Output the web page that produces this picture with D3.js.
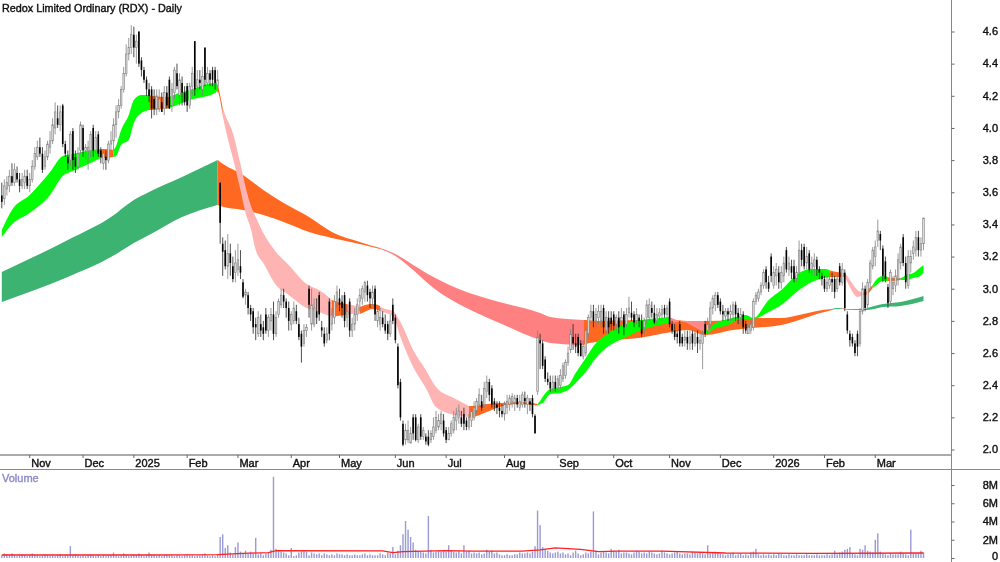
<!DOCTYPE html>
<html><head><meta charset="utf-8">
<script src="https://cdn.jsdelivr.net/npm/d3@7"></script>
<style>html,body{margin:0;padding:0;background:#fff}svg{display:block;filter:blur(0.3px)}text{font-family:"Liberation Sans",Arial,sans-serif;font-size:11px;fill:#111;stroke:#111;stroke-width:.4px}</style>
</head><body><svg id="c" width="1000" height="562"></svg>
<script>
const title="Redox Limited Ordinary (RDX) - Daily";
const opens=[3.58,3.56,3.62,3.64,3.70,3.66,3.72,3.68,3.64,3.66,3.70,3.64,3.68,3.76,3.82,3.88,3.84,3.76,3.82,3.88,
3.92,4.00,4.06,4.02,4.14,3.90,3.82,3.80,3.98,3.82,3.76,3.86,4.00,3.86,3.86,3.86,4.00,3.86,3.96,3.86,
3.78,3.82,3.80,3.90,3.92,4.02,4.10,4.14,4.24,4.34,4.46,4.50,4.58,4.50,4.60,4.42,4.36,4.30,4.24,4.24,
4.18,4.12,4.12,4.16,4.12,4.22,4.30,4.14,4.22,4.34,4.20,4.28,4.22,4.26,4.14,4.26,4.54,4.26,4.30,4.24,
4.50,4.28,4.34,4.36,4.36,4.26,3.66,3.28,3.24,3.14,3.22,3.14,3.10,3.12,3.14,3.04,2.96,2.96,2.88,2.86,
2.78,2.72,2.78,2.76,2.84,2.74,2.80,2.84,2.72,2.84,2.90,2.96,2.92,2.88,2.78,2.80,2.86,2.78,2.72,2.66,
2.74,3.00,2.78,2.78,2.86,2.96,2.76,2.72,2.68,2.92,2.78,2.82,2.92,2.94,2.92,2.96,2.82,2.92,2.74,2.78,
2.84,2.92,2.94,2.98,3.02,2.98,2.94,3.00,2.80,2.78,2.82,2.78,2.78,2.72,2.90,2.82,2.64,2.42,2.16,2.06,
2.06,2.04,2.20,2.20,2.06,2.20,2.08,2.08,2.08,2.06,2.08,2.12,2.14,2.16,2.18,2.12,2.06,2.10,2.12,2.18,
2.20,2.20,2.22,2.18,2.14,2.18,2.20,2.24,2.28,2.30,2.28,2.36,2.42,2.38,2.30,2.28,2.26,2.24,2.22,2.26,
2.28,2.30,2.29,2.32,2.26,2.28,2.32,2.28,2.30,2.32,2.21,2.36,2.68,2.66,2.56,2.44,2.42,2.38,2.42,2.38,
2.40,2.44,2.46,2.54,2.62,2.70,2.66,2.70,2.66,2.58,2.60,2.72,2.82,2.86,2.80,2.82,2.80,2.88,2.74,2.82,
2.82,2.84,2.78,2.82,2.80,2.84,2.78,2.85,2.85,2.84,2.80,2.82,2.80,2.76,2.82,2.82,2.88,2.85,2.80,2.83,
2.84,2.88,2.84,2.92,2.78,2.74,2.72,2.78,2.70,2.68,2.70,2.66,2.72,2.66,2.70,2.66,2.66,2.78,2.74,2.78,
2.88,2.90,2.96,2.92,2.86,2.83,2.86,2.84,2.84,2.90,2.85,2.82,2.84,2.78,2.72,2.74,2.76,2.92,2.94,2.98,
3.02,3.12,3.04,3.20,3.02,3.08,3.10,3.04,3.08,3.24,3.12,3.14,3.14,3.06,3.10,3.24,3.26,3.16,3.22,3.12,
3.14,3.18,3.12,3.08,3.06,3.00,3.02,3.06,3.06,3.00,3.14,3.04,3.10,2.84,2.72,2.70,2.66,2.72,2.66,2.86,
3.00,2.90,3.04,3.14,3.20,3.30,3.34,3.25,3.17,3.01,2.92,3.00,3.02,3.06,3.16,3.32,3.16,3.02,3.16,3.22,
3.24,3.32,3.24,3.28];
const closes=[3.54,3.64,3.66,3.70,3.66,3.74,3.68,3.64,3.68,3.70,3.64,3.68,3.76,3.84,3.88,3.84,3.74,3.82,3.90,3.92,
4.02,4.10,4.02,4.10,3.90,3.84,3.78,3.96,3.80,3.76,3.84,4.02,3.86,3.88,3.88,3.96,3.86,3.94,3.84,3.82,
3.84,3.80,3.90,3.92,4.02,4.10,4.14,4.24,4.34,4.46,4.50,4.58,4.50,4.54,4.40,4.36,4.30,4.24,4.20,4.12,
4.12,4.20,4.18,4.10,4.22,4.14,4.12,4.24,4.36,4.26,4.30,4.22,4.16,4.14,4.26,4.34,4.24,4.30,4.28,4.32,
4.30,4.34,4.30,4.30,4.28,4.30,3.41,3.23,3.14,3.22,3.16,3.06,3.16,3.18,3.10,2.95,2.98,2.88,2.84,2.76,
2.76,2.82,2.74,2.72,2.74,2.82,2.84,2.72,2.82,2.92,2.96,2.92,2.88,2.80,2.84,2.88,2.80,2.70,2.64,2.74,
2.76,2.90,2.90,2.88,2.82,2.84,2.74,2.66,2.72,2.72,2.84,2.92,2.98,2.90,2.88,2.80,2.86,2.74,2.78,2.84,
2.90,2.96,3.00,3.04,2.96,2.94,2.98,2.84,2.86,2.82,2.78,2.74,2.72,2.80,2.80,2.68,2.40,2.20,2.03,2.12,
2.12,2.10,2.10,2.06,2.14,2.08,2.12,2.05,2.03,2.10,2.14,2.20,2.18,2.22,2.10,2.06,2.10,2.16,2.20,2.22,
2.24,2.16,2.16,2.14,2.20,2.24,2.26,2.30,2.34,2.26,2.38,2.42,2.34,2.28,2.28,2.26,2.24,2.22,2.28,2.30,
2.32,2.33,2.32,2.28,2.30,2.34,2.30,2.32,2.28,2.22,2.10,2.70,2.66,2.52,2.44,2.42,2.38,2.42,2.38,2.44,
2.46,2.52,2.54,2.60,2.72,2.66,2.64,2.60,2.58,2.64,2.74,2.82,2.86,2.80,2.84,2.86,2.86,2.76,2.82,2.76,
2.78,2.77,2.82,2.76,2.82,2.76,2.84,2.88,2.82,2.79,2.84,2.80,2.72,2.80,2.90,2.90,2.85,2.79,2.84,2.85,
2.87,2.84,2.88,2.78,2.74,2.70,2.70,2.66,2.66,2.70,2.66,2.70,2.66,2.72,2.66,2.68,2.72,2.72,2.78,2.88,
2.94,2.96,2.90,2.86,2.84,2.86,2.84,2.86,2.90,2.84,2.82,2.84,2.76,2.74,2.76,2.78,2.92,2.96,2.98,3.02,
3.10,3.04,3.00,3.08,3.10,3.12,3.04,3.10,3.16,3.12,3.16,3.10,3.06,3.10,3.24,3.18,3.14,3.20,3.12,3.16,
3.18,3.12,3.10,3.06,3.00,3.04,3.06,3.04,2.98,3.06,3.04,3.12,2.88,2.74,2.68,2.66,2.60,2.64,2.86,3.00,
2.88,3.04,3.16,3.24,3.26,3.36,3.30,3.08,3.06,2.91,3.10,3.04,3.08,3.18,3.26,3.16,3.04,3.20,3.20,3.26,
3.32,3.24,3.28,3.44];
const highs=[3.66,3.68,3.70,3.74,3.78,3.78,3.76,3.72,3.72,3.74,3.74,3.72,3.80,3.88,3.92,3.94,3.88,3.86,3.92,3.98,
4.06,4.16,4.14,4.14,4.15,3.92,3.86,3.98,4.00,3.86,3.88,4.04,4.02,3.90,3.92,3.98,4.02,3.98,3.98,3.88,
3.86,3.86,3.92,3.98,4.06,4.14,4.18,4.26,4.38,4.52,4.56,4.64,4.63,4.58,4.60,4.44,4.38,4.32,4.28,4.26,
4.24,4.24,4.24,4.22,4.26,4.26,4.32,4.28,4.38,4.40,4.34,4.32,4.26,4.28,4.28,4.38,4.54,4.36,4.36,4.38,
4.50,4.38,4.36,4.38,4.38,4.36,3.66,3.32,3.30,3.34,3.28,3.20,3.24,3.28,3.24,3.06,3.00,2.98,2.90,2.88,
2.82,2.86,2.84,2.80,2.88,2.84,2.88,2.92,2.86,2.94,3.00,3.00,2.94,2.92,2.86,2.92,2.90,2.82,2.74,2.78,
2.78,3.02,3.00,2.94,2.94,2.98,2.80,2.76,2.76,2.94,2.88,2.96,3.02,3.00,2.96,2.98,2.90,2.94,2.82,2.88,
2.94,3.00,3.02,3.05,3.05,3.00,3.02,3.02,2.90,2.88,2.86,2.84,2.80,2.84,2.94,2.84,2.66,2.44,2.18,2.16,
2.18,2.14,2.22,2.22,2.16,2.22,2.14,2.10,2.12,2.12,2.20,2.24,2.22,2.24,2.22,2.14,2.14,2.18,2.24,2.26,
2.28,2.24,2.26,2.20,2.22,2.26,2.30,2.32,2.38,2.34,2.42,2.46,2.44,2.40,2.32,2.30,2.30,2.28,2.30,2.34,
2.34,2.35,2.34,2.34,2.34,2.36,2.36,2.34,2.32,2.34,2.22,2.74,2.72,2.68,2.58,2.48,2.46,2.46,2.46,2.46,
2.50,2.54,2.56,2.64,2.75,2.78,2.72,2.72,2.68,2.68,2.76,2.84,2.90,2.90,2.88,2.90,2.90,2.90,2.86,2.86,
2.86,2.86,2.84,2.86,2.88,2.86,2.88,2.95,2.92,2.86,2.88,2.84,2.84,2.82,2.93,2.94,2.92,2.90,2.88,2.88,
2.90,2.90,2.90,2.94,2.80,2.78,2.74,2.80,2.72,2.74,2.74,2.74,2.74,2.74,2.74,2.72,2.74,2.80,2.82,2.92,
2.96,2.98,2.98,2.94,2.90,2.88,2.88,2.90,2.92,2.92,2.88,2.88,2.86,2.80,2.78,2.80,2.94,2.98,3.00,3.04,
3.12,3.14,3.08,3.22,3.14,3.16,3.14,3.14,3.20,3.26,3.20,3.18,3.18,3.14,3.30,3.28,3.28,3.26,3.24,3.20,
3.22,3.20,3.14,3.10,3.08,3.08,3.10,3.10,3.08,3.10,3.16,3.16,3.12,2.86,2.74,2.72,2.68,2.74,2.88,3.04,
3.02,3.06,3.18,3.26,3.30,3.43,3.36,3.27,3.20,3.03,3.12,3.08,3.12,3.22,3.28,3.34,3.20,3.24,3.24,3.30,
3.36,3.36,3.32,3.44];
const lows=[3.50,3.52,3.58,3.60,3.64,3.64,3.66,3.60,3.62,3.62,3.62,3.60,3.66,3.74,3.80,3.82,3.72,3.74,3.80,3.84,
3.90,3.96,4.00,3.98,3.88,3.82,3.74,3.76,3.74,3.72,3.74,3.84,3.82,3.80,3.74,3.82,3.82,3.84,3.82,3.78,
3.74,3.74,3.78,3.86,3.86,3.94,4.06,4.12,4.22,4.32,4.42,4.46,4.44,4.40,4.38,4.32,4.28,4.20,4.16,4.06,
4.08,4.08,4.10,4.10,4.08,4.12,4.12,4.10,4.18,4.24,4.14,4.14,4.14,4.10,4.12,4.20,4.20,4.22,4.24,4.20,
4.26,4.26,4.26,4.26,4.24,4.22,3.28,3.08,3.12,3.06,3.08,3.04,3.04,3.08,3.06,2.94,2.90,2.84,2.80,2.72,
2.68,2.70,2.70,2.68,2.72,2.70,2.74,2.68,2.70,2.82,2.88,2.88,2.82,2.74,2.74,2.78,2.78,2.68,2.54,2.64,
2.70,2.82,2.74,2.76,2.78,2.80,2.70,2.64,2.66,2.68,2.74,2.78,2.88,2.86,2.82,2.76,2.76,2.70,2.70,2.74,
2.80,2.86,2.90,2.92,2.92,2.88,2.90,2.80,2.76,2.74,2.76,2.72,2.68,2.70,2.78,2.66,2.38,2.18,2.02,2.03,
2.04,2.04,2.06,2.05,2.04,2.06,2.06,2.03,2.02,2.04,2.06,2.10,2.12,2.12,2.08,2.04,2.06,2.08,2.10,2.12,
2.16,2.14,2.12,2.12,2.12,2.14,2.18,2.22,2.26,2.24,2.26,2.32,2.30,2.26,2.24,2.22,2.20,2.20,2.18,2.22,
2.24,2.26,2.24,2.26,2.24,2.26,2.26,2.22,2.24,2.20,2.10,2.34,2.50,2.50,2.42,2.40,2.36,2.36,2.36,2.36,
2.38,2.42,2.44,2.52,2.60,2.62,2.60,2.58,2.58,2.56,2.58,2.70,2.78,2.76,2.76,2.78,2.76,2.72,2.72,2.72,
2.74,2.74,2.74,2.72,2.76,2.71,2.76,2.82,2.80,2.76,2.78,2.76,2.70,2.72,2.78,2.80,2.82,2.78,2.78,2.80,
2.80,2.82,2.82,2.76,2.72,2.68,2.66,2.64,2.64,2.64,2.62,2.62,2.62,2.64,2.60,2.62,2.50,2.70,2.72,2.76,
2.84,2.86,2.88,2.84,2.80,2.80,2.80,2.80,2.80,2.80,2.78,2.78,2.72,2.72,2.72,2.72,2.74,2.90,2.92,2.96,
3.00,3.00,2.98,3.04,3.00,3.02,3.00,3.00,3.04,3.10,3.08,3.06,3.04,3.04,3.08,3.14,3.12,3.12,3.10,3.08,
3.08,3.08,3.06,3.02,2.98,2.98,3.00,2.98,2.94,2.98,3.02,3.02,2.86,2.72,2.64,2.64,2.58,2.58,2.64,2.84,
2.86,2.88,3.00,3.12,3.14,3.26,3.24,3.04,3.04,2.88,2.90,2.96,2.98,3.02,3.12,3.14,3.00,3.00,3.10,3.18,
3.20,3.20,3.20,3.24];
const volumes=[.3,.5,.4,.3,.5,.3,.2,.3,.4,.3,.2,.3,.5,.3,.3,.2,.3,.4,.3,.2,
.3,.2,.3,.4,.2,.3,.3,1.3,.3,.4,.3,.2,.3,.2,.3,.4,.3,.2,.3,.2,
.3,.2,.3,.3,.6,.3,.2,.3,.5,.3,.2,.3,.4,.3,.5,.3,.2,.3,.6,.3,
.3,.2,.3,.2,.3,.4,.3,.3,.2,.3,.3,.2,.3,.4,.3,.3,.2,.3,.3,.4,
.5,.3,.2,.3,.2,.4,2.3,2.6,1.1,1.4,.6,.4,1.2,1.7,.7,.5,.8,.5,.7,.5,
2.2,.4,.5,.3,.5,.6,.9,8.9,1.0,.9,.7,.6,.5,.3,1.1,.2,.3,.6,.7,.8,
.7,.3,.6,.5,.4,.5,.3,.5,.4,.3,.4,.3,.5,.4,.4,.3,.4,.3,.3,.4,
.3,.3,.4,.5,.3,.4,.3,.3,.3,.5,.4,.3,.6,.5,1.2,.4,.8,1.4,2.6,4.05,
3.1,2.3,1.7,.9,.8,.7,.6,.5,4.6,.9,.6,.7,.8,.7,.8,.7,1.4,.8,.7,.6,
.8,.5,1.4,.7,.8,.5,.6,.5,.6,.4,.5,.9,.7,.8,.5,.6,.4,.3,.3,.4,
.3,.3,.4,.4,.6,.5,.5,.6,.5,.7,1.3,5.2,3.6,1.2,1.0,.8,.6,.5,.6,.7,
.5,.6,.4,.5,.3,.6,.8,.5,.3,.4,.6,.5,.7,5.1,.8,.4,.6,.7,.6,.5,
1.0,.8,.7,.9,.5,.6,.6,.5,.4,.6,.8,.7,.5,.6,.5,.7,.6,.5,.4,.5,
.8,.6,.5,.4,.5,.6,.7,.5,.4,.5,.5,.4,.7,.6,.5,.6,.5,.4,1.4,.5,
.6,.7,.6,.5,.4,.3,.4,.5,.6,.3,.4,.5,.3,.4,.3,.6,.7,1.0,.4,.3,
.4,.3,.4,.3,.4,.3,.5,.4,.3,.3,.4,.3,.3,.4,.3,.3,.3,.4,.3,.3,
.3,.4,.3,.3,.3,.4,.3,.4,.8,.4,.6,.7,.9,1.0,1.2,.5,.4,.3,1.0,.9,
1.4,.8,.7,.6,2.0,2.7,.7,.5,.4,.3,.5,.4,.4,.4,.7,.5,.4,.3,3.1,.5,
.5,.5,.8,.6];
const fastIdx=[0,4,11,19,24,28,35,39,40,44,45,47,50,52,55,58,59,66,67,74,84,85,
86,87,88,91,94,96,98,100,103,108,113,120,125,130,132,136,138,141,142,146,149,150,154,157,162,167,171,178,184,
185,191,196,204,209,211,212,213,216,220,223,226,230,234,238,246,252,259,263,
268,273,277,278,280,286,291,293,296,302,307,314,319,324,326,327,332,333,334,337,339,340,343,344,347,349,350,354,355,356,359,361,363];
const fastHi=[3.365,3.49,3.583,3.726,3.826,3.838,3.863,3.869,3.869,3.863,3.888,3.987,4.081,4.174,4.205,4.205,4.199,4.193,4.2,4.236,4.28,4.28,
4.205,4.124,4.08,3.969,3.776,3.633,3.521,3.446,3.347,3.229,3.148,3.03,2.992,2.93,2.917,2.905,2.899,2.886,2.893,2.905,2.893,2.88,2.862,2.793,2.619,2.495,2.389,2.32,2.271,
2.271,2.283,2.289,2.296,2.289,2.283,2.302,2.327,2.376,2.389,2.401,2.476,2.569,2.662,2.712,2.787,2.806,2.818,2.824,
2.80,2.80,2.80,2.731,2.774,2.812,2.831,2.837,2.818,2.93,2.992,3.098,3.123,3.123,3.117,3.11,3.098,3.079,3.054,2.992,2.974,2.98,3.023,3.048,3.079,3.073,3.067,3.067,3.073,3.085,3.098,3.123,3.148];
const fastLo=[3.322,3.40,3.471,3.583,3.701,3.732,3.782,3.813,3.813,3.82,3.826,3.894,3.925,4.031,4.093,4.112,4.112,4.124,4.13,4.174,4.218,4.236,
4.174,4.075,4.0,3.813,3.614,3.471,3.378,3.241,3.16,3.023,2.961,2.88,2.855,2.824,2.83,2.837,2.843,2.843,2.849,2.874,2.862,2.855,2.83,2.70,2.513,2.383,2.264,2.215,2.202,
2.202,2.233,2.264,2.283,2.277,2.274,2.283,2.289,2.345,2.352,2.37,2.414,2.482,2.569,2.631,2.70,2.743,2.774,2.787,
2.795,2.76,2.725,2.719,2.743,2.774,2.812,2.812,2.812,2.855,2.899,2.992,3.042,3.067,3.073,3.073,3.073,3.042,3.011,2.949,2.961,2.961,3.005,3.017,3.048,3.048,3.048,3.054,3.054,3.054,3.067,3.073,3.098];
const fastState=["g","g","g","g","g","g","g","g","o","o","g","g","g","g","g","g","o","o","g","g","g","g",
"o","o","p","p","p","p","p","p","p","p","p","p","p","p","o","o","p","p","o","o","o","p","p","p","p","p","p","p","p",
"o","o","o","o","o","o","g","g","g","g","g","g","g","g","g","g","g","g","g",
"r","r","r","g","g","g","g","g","g","g","g","g","g","g","g","o","o","p","p","p","p","o","o","g","g","g","o","o","g","g","g","g","g"];
const slowIdx=[0,26,43,52,58,71,85,86,95,103,111,121,130,141,149,155,162,170,183,196,212,216,229,230,234,251,264,270,277,288,295,301,307,314,321,327,328,331,333,340,341,347,354,363];
const slowHi=[3.104,3.303,3.446,3.552,3.602,3.695,3.801,3.788,3.708,3.614,3.533,3.446,3.353,3.291,3.253,3.216,3.148,3.073,2.98,2.918,2.849,2.824,2.806,2.806,2.80,2.806,2.806,2.80,2.80,2.806,2.818,2.818,2.818,2.837,2.862,2.874,2.878,2.88,2.874,2.874,2.88,2.905,2.918,2.955];
const slowLo=[2.918,3.073,3.197,3.285,3.334,3.446,3.521,3.515,3.49,3.459,3.415,3.353,3.316,3.278,3.247,3.204,3.117,3.005,2.88,2.787,2.681,2.663,2.65,2.656,2.669,2.694,2.731,2.743,2.712,2.743,2.756,2.762,2.774,2.806,2.843,2.868,2.872,2.876,2.87,2.868,2.868,2.886,2.893,2.924];
const slowState=["g","g","g","g","g","g","g","o","o","o","o","o","o","o","o","r","r","r","r","r","r","r","r","o","o","o","o","o","o","o","o","o","o","o","o","o","g","g","o","o","g","g","g","g"];
const volMaIdx=[0,40,60,85,95,105,108,150,154,158,175,185,205,212,218,228,235,242,260,285,320,363];
const volMa=[.33,.33,.33,.38,.5,.6,.8,.77,.6,.7,.8,.75,.75,.9,1.1,.95,.7,.75,.75,.55,.5,.55];
const priceTicks=[2,2.2,2.4,2.6,2.8,3,3.2,3.4,3.6,3.8,4,4.2,4.4,4.6];
const volTicks=[0,2,4,6,8];
const monthIdx=[11,32,52,73,93,114,133,155,175,198,219,241,263,283,304,324,344];
const monthLabels=["Nov","Dec","2025","Feb","Mar","Apr","May","Jun","Jul","Aug","Sep","Oct","Nov","Dec","2026","Feb","Mar"];

const W=1000,H=562,axisX=951.5;
const svg=d3.select("#c");
const x=d3.scaleLinear().domain([0,363]).range([1.8,923.5]);
const y=d3.scaleLinear().domain([2,4.6]).range([449.5,31.5]);
const yv=d3.scaleLinear().domain([0,8]).range([558,485]);
const fastCol={g:"#00ff00",o:"#ff6820",p:"#ffb4b4",r:"#ff8888"};
const slowCol={g:"#3cb371",o:"#ff6820",r:"#ff8080"};

function bands(idx,hi,lo,st,cols){
  const area=d3.area().x(d=>x(d.i)).y0(d=>y(d.l)).y1(d=>y(d.h)).curve(d3.curveMonotoneX);
  const pts=idx.map((v,k)=>({i:v,h:hi[k],l:lo[k],s:st[k]}));
  let run=[pts[0]];
  const flush=(r,s)=>svg.append("path").attr("d",area(r)).attr("fill",cols[s]);
  for(let k=1;k<pts.length;k++){
    if(pts[k].s===pts[k-1].s){run.push(pts[k]);}
    else{flush(run,pts[k-1].s);run=[pts[k-1],pts[k]];}
  }
  flush(run,pts[pts.length-1].s);
}
bands(slowIdx,slowHi,slowLo,slowState,slowCol);
bands(fastIdx,fastHi,fastLo,fastState,fastCol);

const bars=d3.range(closes.length).map(i=>({i,o:opens[i],c:closes[i],h:highs[i],l:lows[i]}));
const g=svg.append("g");
g.selectAll("line").data(bars).join("line")
 .attr("x1",d=>x(d.i)).attr("x2",d=>x(d.i)).attr("y1",d=>y(d.h)).attr("y2",d=>y(d.l))
 .attr("stroke",d=>d.c<d.o?"#222":"#808080").attr("stroke-width",.8);
g.selectAll("rect").data(bars).join("rect")
 .attr("x",d=>x(d.i)-.8).attr("width",1.6)
 .attr("y",d=>y(Math.max(d.o,d.c))).attr("height",d=>Math.max(1,Math.abs(y(d.o)-y(d.c))))
 .attr("fill",d=>d.c<d.o?"#000":"#ddd").attr("stroke",d=>d.c<d.o?"none":"#808080").attr("stroke-width",.6);

svg.append("g").selectAll("rect").data(volumes).join("rect")
 .attr("x",(d,i)=>x(i)-.7).attr("width",1.4).attr("y",d=>yv(d)).attr("height",d=>yv(0)-yv(d)).attr("fill","#9a9ad4");
svg.append("path").attr("d",d3.line().x((d,k)=>x(volMaIdx[k])).y(d=>yv(d))(volMa)).attr("fill","none").attr("stroke","#ff2020").attr("stroke-width",1.3);

svg.append("rect").attr("x",0).attr("y",454).attr("width",axisX).attr("height",2).attr("fill","#aaa");
svg.append("line").attr("x1",0).attr("x2",W).attr("y1",469.5).attr("y2",469.5).attr("stroke","#888");
svg.append("line").attr("x1",axisX).attr("x2",axisX).attr("y1",0).attr("y2",H).attr("stroke","#888");

const ticks=svg.append("g");
monthIdx.forEach((m,k)=>{
  ticks.append("line").attr("x1",x(m)).attr("x2",x(m)).attr("y1",455).attr("y2",458).attr("stroke","#666");
  ticks.append("text").attr("x",x(m)+1.5).attr("y",467).text(monthLabels[k]);
});
function yaxis(scale,vals,fmt){
  const a=svg.append("g").attr("transform",`translate(${axisX},0)`)
    .call(d3.axisRight(scale).tickValues(vals).tickSize(3).tickFormat(fmt));
  a.select(".domain").remove();
  a.selectAll("line").attr("stroke","#666");
  a.selectAll("text").attr("x",46.5).attr("dy","0.3em").attr("text-anchor","end").attr("font-family",null).attr("font-size",null).style("fill","#111");
  return a;
}
yaxis(y,priceTicks,d3.format(".1f"));
const av=yaxis(yv,volTicks,d=>d===0?"0":d+"M");
av.selectAll("text").filter(d=>d===0).attr("dy","0.1em");

svg.append("text").attr("x",2).attr("y",12).attr("font-size",null).style("font-size","10.8px").text(title);
svg.append("text").attr("x",2).attr("y",482).style("fill","#8c8cc8").style("stroke","#8c8cc8").text("Volume");
</script></body></html>
